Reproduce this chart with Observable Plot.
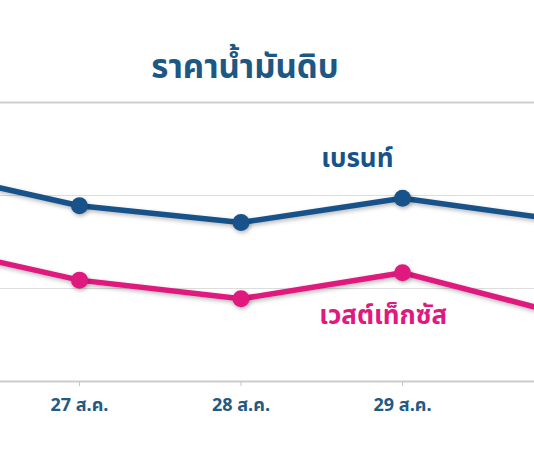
<!DOCTYPE html>
<html>
<head>
<meta charset="utf-8">
<script src="https://cdn.jsdelivr.net/npm/d3@7"></script>
<script src="https://cdn.jsdelivr.net/npm/@observablehq/plot@0.6"></script>
<style>
  html, body { margin: 0; padding: 0; background: #fff; }
  body { width: 534px; height: 462px; overflow: hidden; font-family: "Noto Sans Thai", "Noto Sans", Tahoma, sans-serif; }
  #title { height: 100px; position: relative; }
  #title span { position: absolute; left: 245px; top: 70px; transform: translate(-50%, -55%);
    font-size: 33px; font-weight: bold; color: #1d5784; white-space: nowrap; }
  #chart svg { display: block; font-family: "Noto Sans Thai", "Noto Sans", Tahoma, sans-serif; }
  #chart g[aria-label="line"], #chart g[aria-label="dot"] { filter: drop-shadow(1px 2px 2px rgba(0,0,0,0.28)); }
  #chart g[aria-label="x-axis tick label"] text { font-size: 18px !important; font-weight: bold; }
</style>
</head>
<body>
<div id="title"><span>ราคาน้ำมันดิบ</span></div>
<div id="chart"></div>
<script>
// Data (days of August; 26 and 30 lie beyond the cropped frame)
const days = [26, 27, 28, 29, 30];
const brent = [71.4, 69.45, 68.55, 69.85, 68.65];
const wti = [67.4, 65.45, 64.45, 65.85, 63.6];
const seriesNames = ["เบรนท์", "เวสต์เท็กซัส"];
const tickDays = [27, 28, 29];
const tickLabels = ["27 ส.ค.", "28 ส.ค.", "29 ส.ค."];
const gridValues = [65, 70];
const topRule = [75];
const baseRule = [60];
// series label anchors (data coordinates)
const labelDays = [28.72, 28.88];
const labelValues = [72.0, 63.55];

const BLUE = "#17528a";
const PINK = "#e0197f";

const rows = [];
days.forEach((d, i) => {
  rows.push({day: d, value: brent[i], series: seriesNames[0]});
  rows.push({day: d, value: wti[i], series: seriesNames[1]});
});
const labels = seriesNames.map((s, i) => ({series: s, day: labelDays[i], value: labelValues[i]}));
const tickMap = new Map(tickDays.map((d, i) => [d, tickLabels[i]]));

const chart = Plot.plot({
  width: 534,
  height: 362,
  marginLeft: 0,
  marginRight: 0,
  marginTop: 2,
  marginBottom: 81,
  x: {domain: [26.511, 29.817], axis: null},
  y: {domain: [60, 75], axis: null},
  color: {domain: seriesNames, range: [BLUE, PINK]},
  marks: [
    Plot.ruleY(gridValues, {stroke: "#dddddd", strokeWidth: 1}),
    Plot.ruleY(topRule, {stroke: "#cfcfcf", strokeWidth: 2}),
    Plot.ruleY(baseRule, {stroke: "#cccccc", strokeWidth: 2}),
    Plot.axisX({
      ticks: tickDays,
      tickFormat: d => tickMap.get(d),
      tickSize: 5,
      tickPadding: 12,
      stroke: "#c8c8c8",
      fill: "#245a82",
      fontSize: 18,
      fontWeight: "bold",
      label: null
    }),
    Plot.line(rows, {x: "day", y: "value", z: "series", stroke: "series", strokeWidth: 5.5, clip: true}),
    Plot.dot(rows, {x: "day", y: "value", fill: "series", r: 8.5, clip: true}),
    Plot.text(labels, {x: "day", y: "value", text: "series", fill: "series", fontSize: 26, fontWeight: "bold"})
  ]
});
document.getElementById("chart").appendChild(chart);
</script>
</body>
</html>
